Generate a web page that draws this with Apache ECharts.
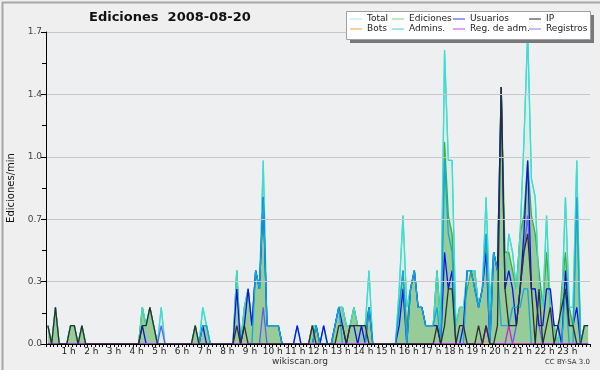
<!DOCTYPE html>
<html>
<head>
<meta charset="utf-8">
<script src="https://cdn.jsdelivr.net/npm/echarts@6/dist/echarts.min.js"></script>
<style>
html,body{margin:0;padding:0;background:#efefef;}
#chart{width:600px;height:370px;}
</style>
</head>
<body>
<div id="chart"></div>
<script>
// 144 ten-minute slots (0h..24h), values in edits per minute
var hourLabels = ['1 h','2 h','3 h','4 h','5 h','6 h','7 h','8 h','9 h','10 h','11 h','12 h','13 h','14 h','15 h','16 h','17 h','18 h','19 h','20 h','21 h','22 h','23 h'];
var yTickLabels = ['0.0','0.3','0.7','1.0','1.4','1.7'];
var seriesNames = ['Total','Ediciones','Usuarios','IP','Bots','Admins.','Reg. de adm.','Registros'];

var total = [
 0.1,0,0.2,0,0,0,  0.1,0.1,0,0.1,0,0,  0,0,0,0,0,0,  0,0,0,0,0,0,
 0,0.2,0.1,0.2,0.1,0,  0.2,0,0,0,0,0,  0,0,0,0.1,0,0.2,  0.1,0,0,0,0,0,
 0,0,0.4,0,0.2,0.3,  0.1,0.4,0.3,1.0,0.1,0.1,  0.1,0.1,0,0,0,0,  0.1,0,0,0,0.1,0.1,
 0,0.1,0,0,0.1,0.2,  0.2,0.1,0.1,0.2,0.1,0.1,  0.1,0.4,0,0,0,0,  0,0,0,0.3,0.7,0.2,
 0.3,0.4,0.2,0.2,0.1,0.1,  0.1,0.4,0.1,1.6,1.0,1.0,  0.1,0.2,0.2,0.4,0.4,0.4,  0.2,0.3,0.8,0.2,0.5,0.4,
 1.4,0.3,0.6,0.5,0.3,0.6,  1.1,1.7,0.9,0.8,0.3,0.2,  0.7,0.2,0.1,0,0.2,0.8,  0.2,0.2,1.0,0,0.1,0.1
];
var ediciones = [
 0.1,0,0.2,0,0,0,  0.1,0.1,0,0.1,0,0,  0,0,0,0,0,0,  0,0,0,0,0,0,
 0,0.2,0.1,0.2,0.1,0,  0,0,0,0,0,0,  0,0,0,0.1,0,0.1,  0.1,0,0,0,0,0,
 0,0,0.4,0,0.2,0.3,  0.1,0.4,0.3,0.8,0.1,0.1,  0.1,0.1,0,0,0,0,  0,0,0,0,0.1,0.1,
 0,0,0,0,0.1,0.2,  0.2,0.1,0.1,0.2,0.1,0.1,  0.1,0.2,0,0,0,0,  0,0,0,0.2,0.4,0.1,
 0.3,0.4,0.2,0.2,0.1,0.1,  0.1,0.4,0.1,1.1,0.7,0.6,  0.1,0.2,0.2,0.3,0.4,0.4,  0.2,0.3,0.6,0.2,0.5,0.4,
 1.4,0.5,0.5,0.4,0.3,0.6,  0.7,1.0,0.7,0.6,0.4,0.2,  0.5,0.2,0.1,0,0.3,0.5,  0.2,0.1,0.8,0,0.1,0.1
];
var usuarios = [
 0,0,0,0,0,0,  0,0,0,0,0,0,  0,0,0,0,0,0,  0,0,0,0,0,0,
 0,0.1,0,0,0,0,  0,0,0,0,0,0,  0,0,0,0,0,0.1,  0,0,0,0,0,0,
 0,0,0.3,0,0.1,0.3,  0.1,0.4,0.3,0.8,0.1,0.1,  0.1,0.1,0,0,0,0,  0.1,0,0,0,0,0.1,
 0,0.1,0,0,0.1,0.2,  0.1,0,0.1,0.1,0,0.1,  0,0.2,0,0,0,0,  0,0,0,0.1,0.3,0,
 0.3,0.4,0.2,0.2,0.1,0.1,  0.1,0.1,0,0.5,0.3,0.4,  0,0,0.1,0.4,0.4,0.3,  0.2,0.3,0.5,0,0.5,0.4,
 1.4,0.3,0.4,0.3,0.1,0.3,  0.6,1.0,0.3,0.3,0.1,0.1,  0.3,0.3,0.1,0.1,0,0.4,  0.1,0.1,0.2,0,0,0
];
var ip = [
 0.1,0,0.2,0,0,0,  0.1,0.1,0,0.1,0,0,  0,0,0,0,0,0,  0,0,0,0,0,0,
 0,0.1,0.1,0.2,0.1,0,  0,0,0,0,0,0,  0,0,0,0.1,0,0,  0,0,0,0,0,0,
 0,0,0.1,0,0.1,0,  0,0,0,0,0,0,  0,0,0,0,0,0,  0,0,0,0,0.1,0,
 0,0,0,0,0,0.1,  0.1,0,0.1,0.1,0.1,0.1,  0.1,0,0,0,0,0,  0,0,0,0,0,0,
 0,0,0,0,0,0,  0,0.1,0,0.1,0.3,0.3,  0,0.1,0.1,0,0,0,  0.1,0,0.1,0,0,0.1,
 1.4,0.3,0.1,0.1,0.1,0.3,  0.5,0.6,0.3,0,0.3,0,  0.1,0.2,0,0.1,0.2,0.3,  0.1,0.1,0,0,0.1,0.1
];
var bots = [
 0,0,0,0,0,0,  0,0,0,0,0,0,  0,0,0,0,0,0,  0,0,0,0,0,0,
 0,0,0,0,0,0,  0,0,0,0,0,0,  0,0,0,0,0,0,  0,0,0,0,0,0,
 0,0,0,0,0,0,  0,0,0,0,0,0,  0,0,0,0,0,0,  0,0,0,0,0,0,
 0,0,0,0,0,0,  0,0,0,0,0,0,  0,0,0,0,0,0,  0,0,0,0,0,0,
 0,0,0,0,0,0,  0,0,0,0,0,0,  0,0,0,0,0,0,  0,0,0,0,0,0,
 0,0,0,0,0,0,  0,0,0,0,0,0,  0,0,0,0,0,0,  0,0,0,0,0,0
];
var admins = [
 0,0,0,0,0,0,  0,0,0,0,0,0,  0,0,0,0,0,0,  0,0,0,0,0,0,
 0,0,0,0,0,0,  0,0,0,0,0,0,  0,0,0,0,0,0.1,  0.1,0,0,0,0,0,
 0,0,0,0,0,0,  0,0.4,0.3,0.8,0.1,0.1,  0.1,0.1,0,0,0,0,  0,0,0,0,0,0.1,
 0,0,0,0,0.1,0.2,  0,0,0,0,0,0,  0,0.2,0,0,0,0,  0,0,0,0.2,0.4,0,
 0.3,0.4,0.2,0.2,0.1,0.1,  0.1,0.2,0,1.0,0.6,0.5,  0,0,0,0.4,0.4,0.3,  0.2,0.3,0.6,0,0.5,0.4,
 0.1,0.1,0.1,0.2,0.2,0.2,  0.3,0.3,0,0,0,0,  0,0,0,0,0,0.3,  0,0,0.8,0,0,0
];
var regAdm = [
 0,0,0,0,0,0,  0,0,0,0,0,0,  0,0,0,0,0,0,  0,0,0,0,0,0,
 0,0,0,0,0,0,  0,0,0,0,0,0,  0,0,0,0,0,0,  0,0,0,0,0,0,
 0,0,0,0,0,0,  0,0,0,0,0,0,  0,0,0,0,0,0,  0,0,0,0,0,0,
 0,0,0,0,0,0,  0,0,0,0,0,0,  0,0,0,0,0,0,  0,0,0,0,0,0,
 0,0,0,0,0,0,  0,0,0,0,0,0,  0,0,0,0,0,0,  0,0,0.1,0,0,0,
 0,0,0.1,0,0,0,  0,0,0,0,0,0,  0,0,0,0,0,0,  0,0,0,0,0,0
];
var registros = [
 0,0,0,0,0,0,  0,0,0,0,0,0,  0,0,0,0,0,0,  0,0,0,0,0,0,
 0,0,0,0,0,0,  0.1,0,0,0,0,0,  0,0,0,0,0,0,  0,0,0,0,0,0,
 0,0,0,0,0,0,  0,0,0,0.2,0,0,  0,0,0,0,0,0,  0,0,0,0,0,0,
 0,0,0,0,0,0,  0,0,0,0,0,0,  0,0,0,0,0,0,  0,0,0,0,0,0,
 0,0,0,0,0,0,  0,0,0,0,0,0,  0,0,0,0,0,0,  0,0,0.1,0,0,0,
 0,0,0,0,0.1,0.3,  0.5,0.7,0.3,0.3,0.1,0,  0,0,0,0,0,0,  0,0,0,0,0,0
];

var lineColors = ['#40dcd0','#3cae3c','#1010e8','#2e2e2e','#f09020','#10a8e0','#d020d0','#6060f0'];
var legendColors = ['#b0e6e6','#88d088','#3838e0','#282828','#f0a040','#40d0e0','#d040e0','#8080f0'];

function pts(arr){ return arr.map(function(v,i){ return [i+0.5, v]; }); }

var chart = echarts.init(document.getElementById('chart'), null, {renderer:'canvas'});
var font = 'DejaVu Sans';

function mkSeries(name, arr, idx, extra){
  var s = {
    name: name, type:'line', data: pts(arr), symbol:'none', silent:true,
    lineStyle:{color: lineColors[idx], width:1.3},
    itemStyle:{color: lineColors[idx]},
    z: 2
  };
  if (extra) for (var k in extra) s[k]=extra[k];
  return s;
}

var series = [
  mkSeries('Total', total, 0, {areaStyle:{color:'rgba(170,230,220,0.35)'}, z:2}),
  mkSeries('Ediciones', ediciones, 1, {areaStyle:{color:'#97cb97', opacity:1}, z:2.1}),
  mkSeries('Bots', bots, 4, {z:2.2}),
  mkSeries('Registros', registros, 7, {z:2.3}),
  mkSeries('Usuarios', usuarios, 2, {z:2.4}),
  mkSeries('Admins.', admins, 5, {z:2.5}),
  mkSeries('Reg. de adm.', regAdm, 6, {z:2.6}),
  mkSeries('IP', ip, 3, {z:2.7})
];
// Total line drawn again above the fills
series.push(mkSeries('Total', total, 0, {z:2.25, lineStyle:{color:lineColors[0], width:1.2}}));

var legendCols = [[0,4],[1,5],[2,6],[3,7]];
var legendLefts = [350, 392, 453, 529];
var legends = legendCols.map(function(col, c){
  return {
    orient:'vertical', left: legendLefts[c], top: 14, itemGap: 0, z: 40,
    itemWidth: 12, itemHeight: 1, icon:'rect', selectedMode:false,
    padding:0,
    textStyle:{fontFamily:font, fontSize:9, color:'#222', lineHeight:10, padding:[0,0,0,0]},
    data: col.map(function(k){ return {name: seriesNames[k], itemStyle:{color: legendColors[k]}}; })
  };
});

var option = {
  backgroundColor:'#efefef',
  animation:false,
  title:{
    text:'Ediciones  2008-08-20', left:84, top:6,
    textStyle:{fontFamily:font, fontSize:13, fontWeight:'bold', color:'#111'}
  },
  legend: legends,
  grid:{left:46, right:10, top:32, bottom:26, containLabel:false, outerBoundsMode:'none',
        show:true, backgroundColor:'#eeeff0', borderWidth:0},
  xAxis:{
    type:'value', min:0, max:144, interval:1, z:10,
    axisLine:{lineStyle:{color:'#000', width:1}},
    axisTick:{show:true, length:3, lineStyle:{color:'#000'}},
    splitLine:{show:false},
    axisLabel:{
      fontFamily:font, fontSize:9, color:'#222', margin:3, showMinLabel:true, showMaxLabel:true,
      formatter:function(v){ return (v%6===0 && v>0 && v<144) ? hourLabels[v/6-1] : ''; }
    }
  },
  yAxis:{
    type:'value', min:0, max:1.7, interval:0.34, z:10,
    name:'Ediciones/min', nameLocation:'middle', nameGap:28, nameRotate:90,
    nameTextStyle:{fontFamily:font, fontSize:10, color:'#111'},
    axisLine:{show:true, lineStyle:{color:'#000', width:1}},
    axisTick:{show:true, length:5, lineStyle:{color:'#000'}},
    minorTick:{show:true, splitNumber:2, length:4, lineStyle:{color:'#000'}},
    splitLine:{show:true, lineStyle:{color:'#c8c8c8', width:1}},
    axisLabel:{
      fontFamily:font, fontSize:9, color:'#444', margin:4,
      formatter:function(v){ return yTickLabels[Math.round(v/0.34)]; }
    }
  },
  graphic:[
    {type:'rect', left:0, top:0, shape:{width:599, height:369}, style:{fill:'none', stroke:'#a8a8a8', lineWidth:2}, z:100, silent:true},
    {type:'rect', shape:{x:350, y:15, width:244, height:28}, style:{fill:'#787878'}, z:20, silent:true},
    {type:'rect', shape:{x:346.5, y:11.5, width:244, height:28}, style:{fill:'#ffffff', stroke:'#a0a0a0', lineWidth:1}, z:21, silent:true},
    {type:'text', x:300, y:357, style:{text:'wikiscan.org', fontFamily:font, fontSize:9, fill:'#333', textAlign:'center'}, z:30, silent:true},
    {type:'text', x:590, y:359, style:{text:'CC BY-SA 3.0', fontFamily:font, fontSize:7, fill:'#333', textAlign:'right'}, z:30, silent:true}
  ],
  series: series
};
chart.setOption(option);
</script>
</body>
</html>
